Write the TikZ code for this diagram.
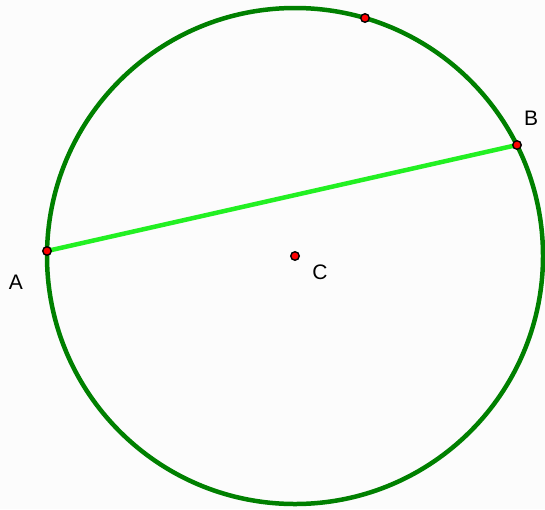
\documentclass[tikz,border=0pt]{standalone}
\usepackage{fontspec}
\setmainfont{Liberation Sans}
\definecolor{circgreen}{HTML}{008000}
\definecolor{chordgreen}{HTML}{22F022}
\definecolor{ptred}{HTML}{FF0000}
\definecolor{bgwhite}{HTML}{FCFCFC}

\tikzset{
  pt/.style={circle, fill=ptred, draw=black, line width=1.4pt, inner sep=0pt, minimum size=8.5pt},
  lbl/.style={font=\fontsize{21}{25}\selectfont, inner sep=0pt}
}

\begin{document}
\begin{tikzpicture}[x=1pt, y=-1pt]

  % Canvas
  \fill[bgwhite] (0,0) rectangle (545,509);
  \useasboundingbox (0,0) rectangle (545,509);

  % Circle through the points
  \draw[circgreen, line width=4.5pt] (295,256) circle (248);

  % Point positions
  \coordinate (pA) at (47,251);
  \coordinate (pB) at (517,145);

  % Chord
  \draw[chordgreen, line width=4.5pt] (pA) -- (pB);

  % Points
  \node[pt] (A) at (pA) {};
  \node[pt] (B) at (pB) {};
  \node[pt] (C) at (295,256) {};
  \node[pt] (D) at (365,18) {};

  % Labels
  \node[lbl] (labA) at (16,282) {A};
  \node[lbl] (labB) at (531,118) {B};
  \node[lbl] (labC) at (320,272) {C};

\end{tikzpicture}
\end{document}
